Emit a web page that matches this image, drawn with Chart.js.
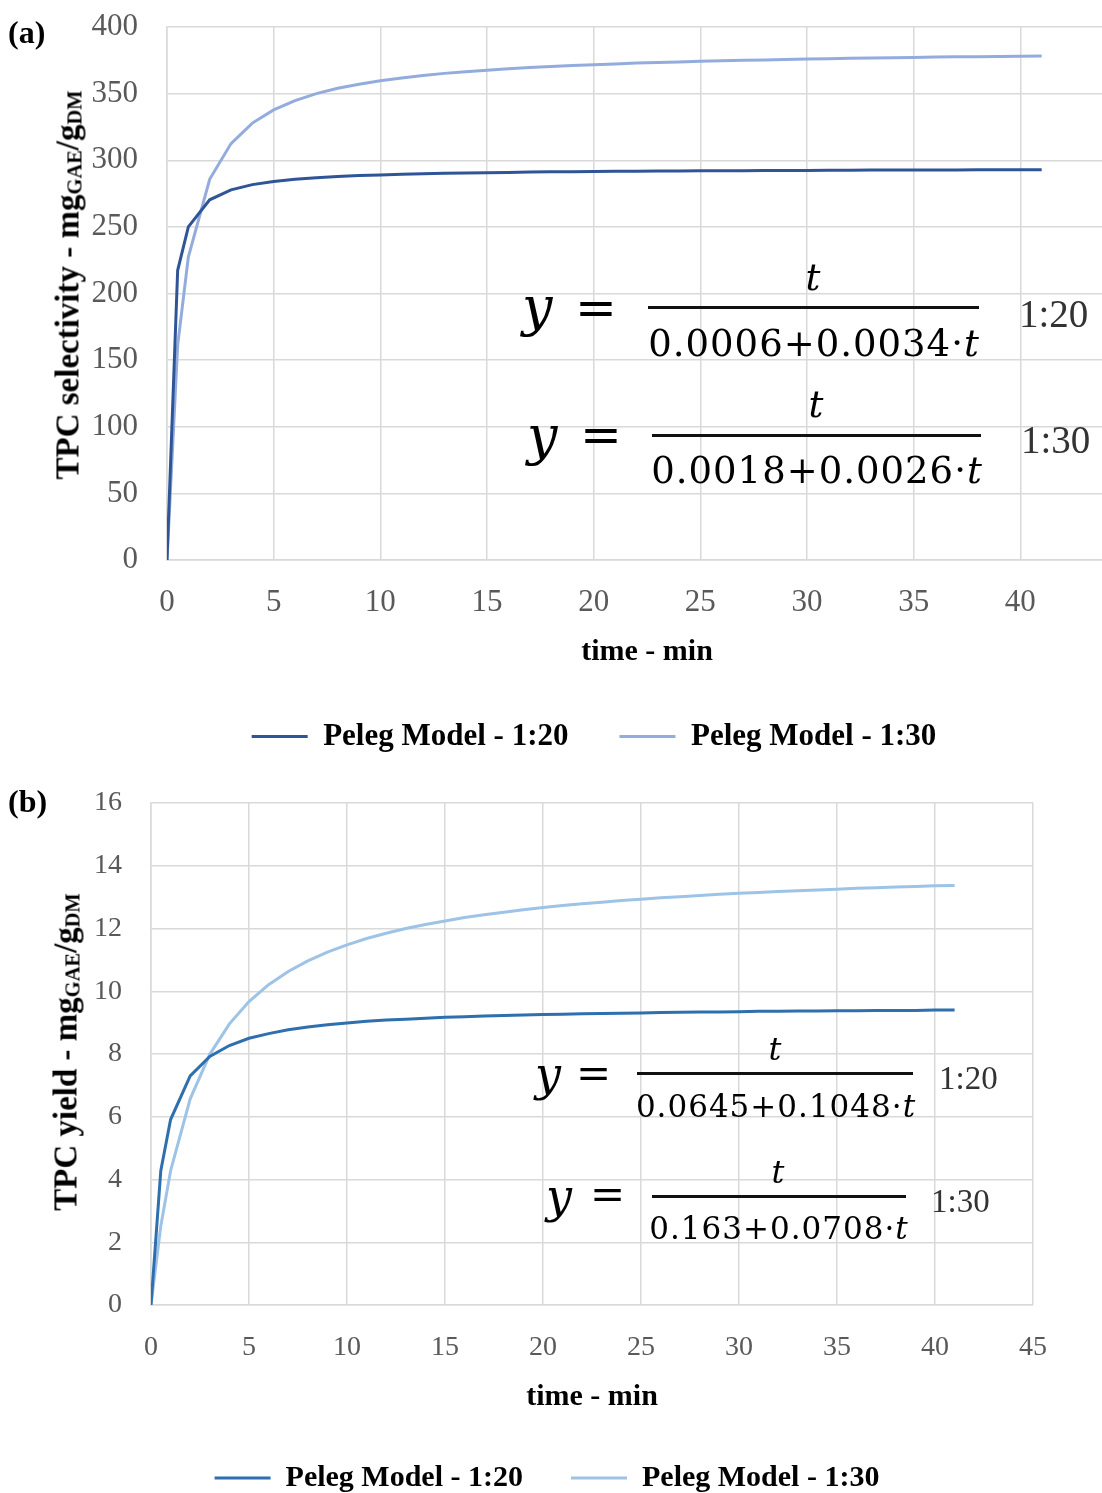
<!DOCTYPE html>
<html>
<head>
<meta charset="utf-8">
<script src="https://cdn.jsdelivr.net/npm/chart.js@4.4.1/dist/chart.umd.min.js"></script>
<style>
  html, body { margin: 0; overflow: hidden; }
  body { width: 1102px; height: 1493px; position: relative; background: #fff; font-family: "Liberation Serif", serif; }
  canvas { position: absolute; left: 0; }
  .txt { position: absolute; white-space: nowrap; line-height: 1; color: #000; }
  .bar { position: absolute; background: #111; }
  .ytitle { position: absolute; white-space: nowrap; font: bold 33px "Liberation Serif", serif; color: #000;
            transform: translate(-50%, -50%) rotate(-90deg); }
  .ytitle sub { font-size: 0.62em; vertical-align: -0.15em; }
</style>
</head>
<body>
<canvas id="selectivityChart" width="1188" height="770" style="top:0"></canvas>
<canvas id="yieldChart" width="1188" height="733" style="top:770px"></canvas>

<div class="ytitle" style="left:68px; top:285px">TPC selectivity - mg<sub>GAE</sub>/g<sub>DM</sub></div>
<div class="ytitle" style="left:66px; top:1052px">TPC yield - mg<sub>GAE</sub>/g<sub>DM</sub></div>

<script>
// extraction time, min
const minutes = [0, 0.5, 1, 2, 3, 4, 5, 6, 7, 8, 9, 10, 11, 12, 13, 14, 15, 16, 17, 18, 19, 20,
  21, 22, 23, 24, 25, 26, 27, 28, 29, 30, 31, 32, 33, 34, 35, 36, 37, 38, 39, 40, 41];

// (a) TPC selectivity, mgGAE/gDM
const selectivity120 = [0, 217.4, 250, 270.3, 277.8, 281.7, 284.1, 285.7, 286.9, 287.8, 288.5, 289.0,
  289.5, 289.9, 290.2, 290.5, 290.7, 290.9, 291.1, 291.3, 291.4, 291.5, 291.7, 291.8, 291.9, 292.0,
  292.1, 292.1, 292.2, 292.3, 292.3, 292.4, 292.5, 292.5, 292.6, 292.6, 292.6, 292.7, 292.7, 292.8,
  292.8, 292.8, 292.9];
const selectivity130 = [0, 161.3, 227.3, 285.7, 312.5, 327.9, 337.8, 344.8, 350.0, 354.0, 357.1, 359.7,
  361.8, 363.6, 365.2, 366.5, 367.6, 368.7, 369.6, 370.4, 371.1, 371.7, 372.3, 372.9, 373.4, 373.8,
  374.3, 374.6, 375.0, 375.3, 375.6, 375.9, 376.2, 376.5, 376.7, 376.9, 377.2, 377.4, 377.6, 377.7,
  377.9, 378.1, 378.2];

// (b) TPC yield, mgGAE/gDM
const yield120 = [0, 4.28, 5.91, 7.30, 7.92, 8.27, 8.50, 8.65, 8.77, 8.86, 8.93, 8.99, 9.04, 9.08,
  9.11, 9.14, 9.17, 9.19, 9.21, 9.23, 9.24, 9.26, 9.27, 9.28, 9.29, 9.30, 9.31, 9.32, 9.33, 9.34,
  9.34, 9.35, 9.36, 9.36, 9.37, 9.37, 9.38, 9.38, 9.39, 9.39, 9.39, 9.40, 9.40];
const yield130 = [0, 2.52, 4.28, 6.57, 7.99, 8.96, 9.67, 10.21, 10.63, 10.97, 11.25, 11.48, 11.68,
  11.85, 12.00, 12.13, 12.24, 12.35, 12.44, 12.52, 12.60, 12.67, 12.73, 12.79, 12.84, 12.89, 12.93,
  12.98, 13.01, 13.05, 13.09, 13.12, 13.15, 13.18, 13.20, 13.23, 13.25, 13.28, 13.30, 13.32, 13.34,
  13.36, 13.37];

const seriesNames = ['Peleg Model - 1:20', 'Peleg Model - 1:30'];
const xTitle = 'time - min';

const SERIF = '"Liberation Serif", serif';
const GRID = '#d9d9d9';

function points(values) {
  return values.map((v, i) => ({ x: minutes[i], y: v }));
}

function lineSet(label, values, color) {
  return {
    label: label,
    data: points(values),
    borderColor: color,
    backgroundColor: color,
    borderWidth: 3,
    pointRadius: 0,
    pointBorderWidth: 3,
    pointStyle: 'line',
    tension: 0
  };
}

function buildChart(id, p) {
  return new Chart(document.getElementById(id), {
    type: 'line',
    data: {
      datasets: [
        lineSet(seriesNames[0], p.series[0], p.colors[0]),
        lineSet(seriesNames[1], p.series[1], p.colors[1])
      ]
    },
    options: {
      responsive: false,
      animation: false,
      devicePixelRatio: 1,
      layout: { padding: { top: p.top, left: 61, right: p.right, bottom: p.bottom } },
      plugins: {
        tooltip: { enabled: false },
        legend: {
          position: 'bottom',
          labels: {
            usePointStyle: true,
            pointStyleWidth: 56,
            padding: p.legendPad,
            color: '#000',
            font: { family: SERIF, size: p.legendSize, weight: 'bold' }
          }
        }
      },
      scales: {
        x: {
          type: 'linear',
          min: 0,
          max: 45,
          ticks: { stepSize: 5, padding: p.xTickPad, color: '#595959', font: { family: SERIF, size: p.tickSize } },
          grid: { color: GRID, lineWidth: 1.5, drawTicks: false },
          border: { color: GRID, width: 1.5 },
          title: { display: true, text: xTitle, color: '#000', padding: { top: 0, bottom: 0 },
                   font: { family: SERIF, size: 30, weight: 'bold' } },
          afterFit: s => { s.height = 110; }
        },
        y: {
          min: 0,
          max: p.yMax,
          // the gap left of the axis comes from invisible tick marks, not tick padding
          ticks: { stepSize: p.yStep, padding: 0, color: '#595959', font: { family: SERIF, size: p.tickSize } },
          grid: { color: GRID, lineWidth: 1.5, drawTicks: true, tickLength: 29, tickColor: 'rgba(0,0,0,0)' },
          border: { color: GRID, width: 1.5 },
          afterFit: s => { s.width = p.yWidth; }
        }
      }
    }
  });
}

buildChart('selectivityChart', {
  series: [selectivity120, selectivity130],
  colors: ['#2F5597', '#93ACDD'],
  top: 27, right: 61, bottom: 8,
  yWidth: 106, yMax: 400, yStep: 50,
  tickSize: 31, xTickPad: 24,
  legendSize: 31, legendPad: 51
});

buildChart('yieldChart', {
  series: [yield120, yield130],
  colors: ['#2E6FAE', '#9DC3E6'],
  top: 33, right: 155, bottom: 0,
  yWidth: 90, yMax: 16, yStep: 2,
  tickSize: 28, xTickPad: 26,
  legendSize: 30, legendPad: 48
});

// panel letters and Peleg equations as positioned text
const DJV = '"DejaVu Serif", serif';
const BASE = { [DJV]: 0.846, [SERIF]: 0.8375 };

function put(html, x, baseline, size, family, extra) {
  const el = document.createElement('div');
  el.className = 'txt';
  el.innerHTML = html;
  el.style.fontFamily = family;
  el.style.fontSize = size + 'px';
  el.style.top = (baseline - BASE[family] * size) + 'px';
  el.style.left = x + 'px';
  Object.assign(el.style, extra || {});
  document.body.appendChild(el);
  return el;
}

function centre(html, x, baseline, size, family, extra) {
  return put(html, x, baseline, size, family, Object.assign({ transform: 'translateX(-50%)' }, extra || {}));
}

function bar(x, top, w, h) {
  const el = document.createElement('div');
  el.className = 'bar';
  Object.assign(el.style, { left: x + 'px', top: top + 'px', width: w + 'px', height: h + 'px' });
  document.body.appendChild(el);
}

put('(a)', 8, 43, 32, SERIF, { fontWeight: 'bold' });
put('(b)', 8, 812, 32, SERIF, { fontWeight: 'bold' });

function equation(e) {
  put('y', e.yx, e.yb, e.ySize, DJV, { fontStyle: 'italic' });
  put('=', e.ex, e.eb, e.eSize, DJV);
  centre('t', e.cx, e.nb, e.nSize, DJV, { fontStyle: 'italic' });
  bar(e.bx, e.bt, e.bw, e.bh);
  centre(e.den + '·<i>t</i>', e.cx + 1, e.db, e.dSize, DJV, { letterSpacing: e.ls + 'px' });
  put(e.tag, e.tx, e.tb, e.tSize, SERIF, { color: '#333' });
}

equation({ yx: 522, yb: 326, ySize: 54, ex: 575, eb: 325, eSize: 50, cx: 813, nb: 290, nSize: 37,
  bx: 648, bt: 306, bw: 331, bh: 3, den: '0.0006+0.0034', db: 356, dSize: 37, ls: 1,
  tag: '1:20', tx: 1019, tb: 327, tSize: 39 });
equation({ yx: 527, yb: 455, ySize: 54, ex: 580, eb: 452, eSize: 50, cx: 816, nb: 417, nSize: 37,
  bx: 652, bt: 434, bw: 329, bh: 3, den: '0.0018+0.0026', db: 483, dSize: 37, ls: 1,
  tag: '1:30', tx: 1021, tb: 453, tSize: 39 });
equation({ yx: 535, yb: 1090, ySize: 46, ex: 576, eb: 1089, eSize: 42, cx: 775, nb: 1060, nSize: 32,
  bx: 637, bt: 1072, bw: 276, bh: 2.5, den: '0.0645+0.1048', db: 1117, dSize: 31, ls: 1,
  tag: '1:20', tx: 939, tb: 1090, tSize: 33 });
equation({ yx: 546, yb: 1212, ySize: 46, ex: 590, eb: 1210, eSize: 42, cx: 778, nb: 1183, nSize: 32,
  bx: 652, bt: 1195, bw: 254, bh: 2.5, den: '0.163+0.0708', db: 1239, dSize: 31, ls: 1,
  tag: '1:30', tx: 931, tb: 1213, tSize: 33 });
</script>
</body>
</html>
